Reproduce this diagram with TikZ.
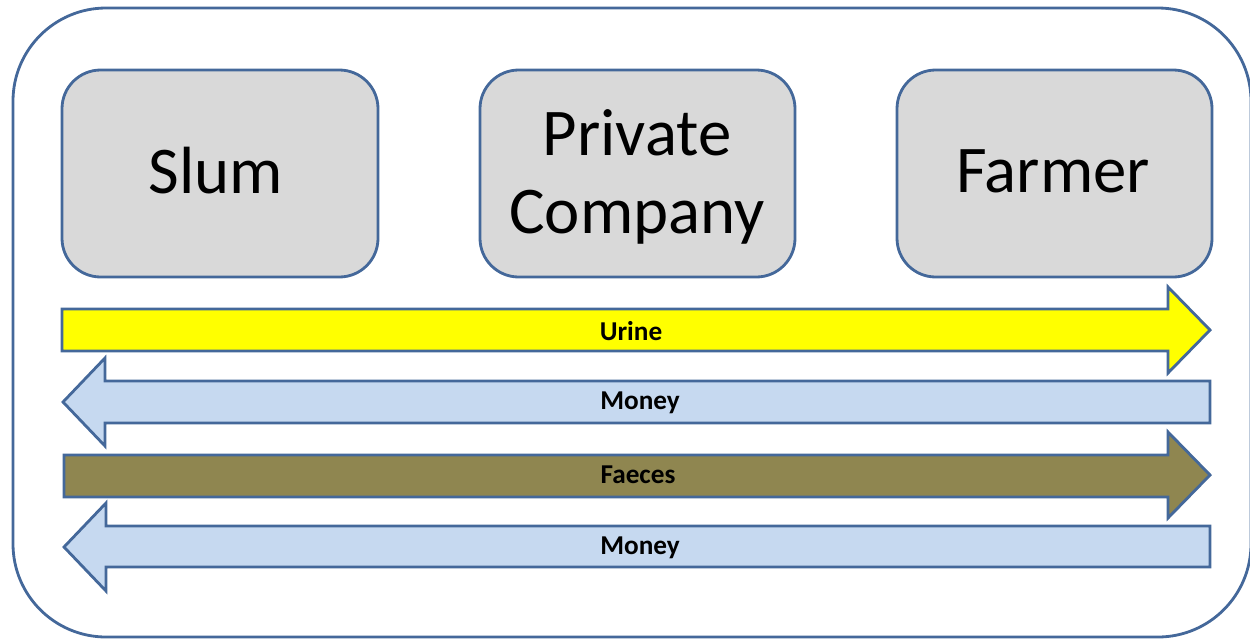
\documentclass[tikz,border=0pt]{standalone}
\usepackage{fontspec}
\setmainfont{Carlito}
\begin{document}
\begin{tikzpicture}[x=0.02cm,y=-0.02cm,
  edge/.style={draw=frame,line width=1.6pt,line join=miter},
  actor/.style={edge,fill=boxgray,rounded corners=22pt},
  flowlabel/.style={font=\bfseries\fontsize{15.5}{18}\selectfont,inner sep=0pt,anchor=center},
  actorlabel/.style={font=\fontsize{38}{44}\selectfont,align=center,inner sep=0pt,anchor=center}]
\definecolor{frame}{HTML}{44689A}
\definecolor{boxgray}{HTML}{D9D9D9}
\definecolor{urine}{HTML}{FFFF00}
\definecolor{money}{HTML}{C6D9F0}
\definecolor{faeces}{HTML}{8F8650}
\useasboundingbox (0,0) rectangle (1250,640);

% outer frame
\draw[edge,rounded corners=53pt] (13,8) rectangle (1251,637);

% actors
\draw[actor] (62,70) rectangle (378,277);
\draw[actor] (480,70) rectangle (795,277);
\draw[actor] (897,70) rectangle (1212,277);
\node[actorlabel] (slum) at (216,171) {Slum};
\node[actorlabel] (company) at (637,177) {Private\\Company};
\node[actorlabel] (farmer) at (1053,171) {Farmer};

% rightward flows
\draw[edge,fill=urine] (62,309) -- (1168,309) -- (1168,287) -- (1210,330)
  -- (1168,373) -- (1168,351) -- (62,351) -- cycle;
\draw[edge,fill=faeces] (64,455) -- (1168,455) -- (1168,432) -- (1210,475)
  -- (1168,518) -- (1168,497) -- (64,497) -- cycle;

% leftward flows
\draw[edge,fill=money] (1210,381) -- (105,381) -- (105,358) -- (63,402)
  -- (105,446) -- (105,423) -- (1210,423) -- cycle;
\draw[edge,fill=money] (1210,526) -- (106,526) -- (106,503) -- (64,547)
  -- (106,591) -- (106,567) -- (1210,567) -- cycle;

\node[flowlabel] (urinelbl) at (631,331) {Urine};
\node[flowlabel] (money1) at (640,403) {Money};
\node[flowlabel] (faeceslbl) at (638,475) {Faeces};
\node[flowlabel] (money2) at (640,548) {Money};
\end{tikzpicture}
\end{document}
